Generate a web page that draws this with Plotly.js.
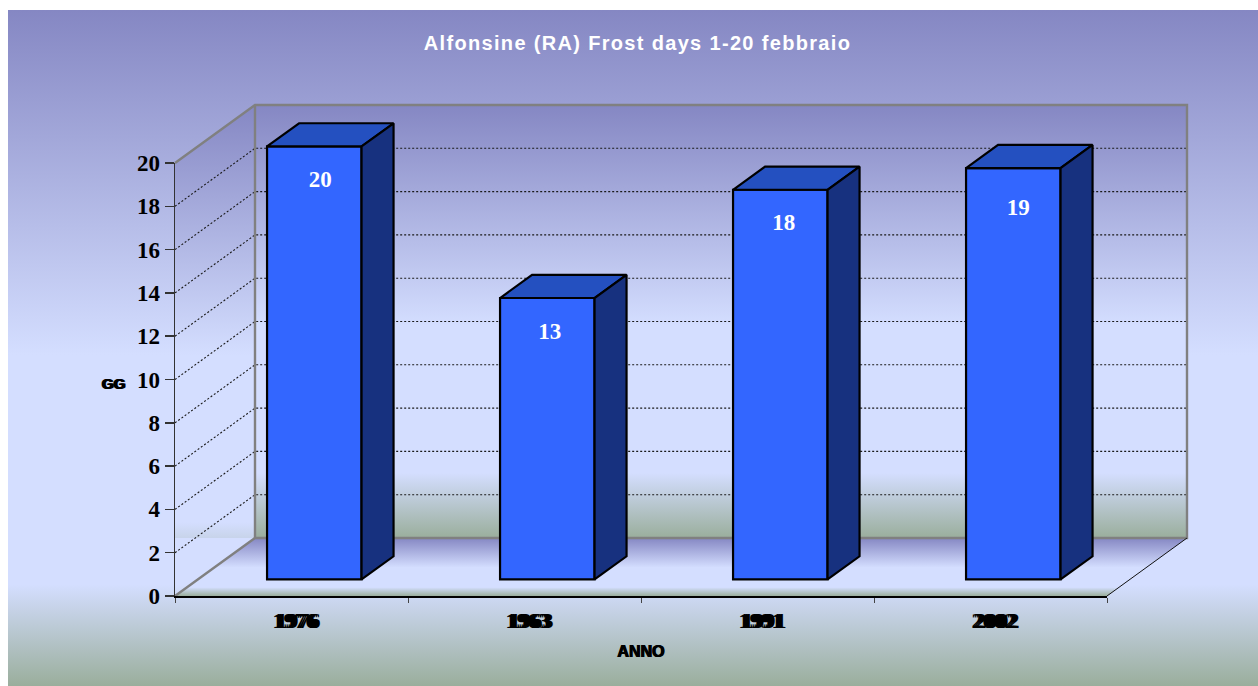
<!DOCTYPE html>
<html>
<head>
<meta charset="utf-8">
<script src="https://cdn.plot.ly/plotly-3.0.1.min.js"></script>
<style>
html,body{margin:0;padding:0;background:#fff;width:1258px;height:686px;overflow:hidden}
#bg{position:absolute;left:8px;top:10px;width:1250px;height:676px;
background:linear-gradient(to bottom,#8587c3 0%,#d4deff 51%,#d4deff 85%,#9aae9c 100%)}
#chart{position:absolute;left:0;top:0;width:1258px;height:686px}
.gtitle{letter-spacing:1.33px}
.xtick text{letter-spacing:-.4px}
</style>
</head>
<body>
<div id="bg"></div>
<div id="chart"></div>
<script>
// ---- data ----
const years = ['1976','1963','1991','2002'];
const frostDays = [20,13,18,19];
const gridValues = [2,4,6,8,10,12,14,16,18];
const yTicks = [0,2,4,6,8,10,12,14,16,18,20];

// ---- frame geometry ----
const W = 1258, H = 686;
const L = 175, R = 1107, T = 163, B = 596;      // front plane of the box
const WALL_X = 80, WALL_Y = 58;                 // depth of the box, px
const PAD = 5;                                  // room so the outlines are not clipped
const YMAX = 20, NCAT = years.length;
const pxX = (R-L)/NCAT, pxY = (B-T)/YMAX;
const DX = WALL_X/pxX, DY = WALL_Y/pxY;         // full wall depth in axis units
const barNear = 0.285, barFar = 0.685;          // bars' place along the depth
const barW = 94.5/pxX;
const tickShiftX = 5/pxX;
const labelShiftPx = [6,2.5,3.5,5];             // px right of the bar's centre
const labelDrop = [35,35,34.5,41.5];            // px below the top edge of the front face

const plotL = L-PAD, plotR = R+WALL_X+PAD, plotB = B+PAD, plotT = T-WALL_Y-PAD;
const plotW = plotR-plotL, plotH = plotB-plotT;
const xRange = [-PAD/pxX, NCAT+DX+PAD/pxX];
const yRange = [-PAD/pxY, YMAX+DY+PAD/pxY];

const stops = [[0,'#9aae9c'],[0.15,'#d4deff'],[0.49,'#d4deff'],[1,'#8587c3']];

const nearX = frostDays.map((v,i)=>i+0.5+barNear*DX);
const base = barNear*DY;
const dep = barFar-barNear;

function polys(fn){const xs=[],ys=[];frostDays.forEach((v,i)=>{fn(v,i).forEach(q=>{xs.push(q[0]);ys.push(q[1]);});xs.push(null);ys.push(null);});return {x:xs,y:ys};}
const topFace = polys((v,i)=>{const a=nearX[i]-barW/2,b=nearX[i]+barW/2,t=base+v;
  return [[a,t],[b,t],[b+dep*DX,t+dep*DY],[a+dep*DX,t+dep*DY],[a,t]];});
const sideFace = polys((v,i)=>{const b=nearX[i]+barW/2,t=base+v;
  return [[b,base],[b,t],[b+dep*DX,t+dep*DY],[b+dep*DX,base+dep*DY],[b,base]];});

const gridX=[],gridY=[];
gridValues.forEach(v=>{gridX.push(0,DX,NCAT+DX,null);gridY.push(v,v+DY,v+DY,null);});

const frame = {cliponaxis:false,hoverinfo:'skip',showlegend:false,type:'scatter',mode:'lines'};
const traces = [
 // back wall
 {...frame,x:[DX,NCAT+DX,NCAT+DX,DX,DX],y:[DY,DY,YMAX+DY,YMAX+DY,DY],fill:'toself',line:{width:0},
  fillgradient:{type:'vertical',colorscale:stops,start:DY,stop:YMAX+DY}},
 // left wall
 {...frame,x:[0,DX,DX,0,0],y:[DY,DY,YMAX+DY,YMAX,DY],fill:'toself',line:{width:0},
  fillgradient:{type:'vertical',colorscale:stops,start:0,stop:YMAX+DY}},
 // floor
 {...frame,x:[0,NCAT,NCAT+DX,DX,0],y:[0,0,DY,DY,0],fill:'toself',line:{width:0},
  fillgradient:{type:'vertical',colorscale:stops,start:0,stop:DY}},
 // gridlines
 {...frame,x:gridX,y:gridY,line:{color:'#1a1a1a',width:1.1,dash:'2px,2px'}},
 // wall outlines
 {...frame,x:[0,DX,NCAT+DX,NCAT+DX,DX,0,null,DX,DX],y:[YMAX,YMAX+DY,YMAX+DY,DY,DY,0,null,DY,YMAX+DY],
  line:{color:'#808080',width:2.4}},
 {...frame,x:[NCAT,NCAT+DX],y:[0,DY],line:{color:'#111',width:1}},
 // axes carrier
 {...frame,xaxis:'x3',yaxis:'y3',x:[0],y:[0],mode:'markers',marker:{size:1,opacity:0}},
 // bars: front faces
 {type:'bar',x:nearX,y:frostDays,base:base,width:barW,xaxis:'x2',yaxis:'y2',cliponaxis:false,hoverinfo:'skip',showlegend:false,
  marker:{color:'#3366ff',line:{color:'#000',width:2.2}}},
 {...frame,xaxis:'x2',yaxis:'y2',x:topFace.x,y:topFace.y,fill:'toself',fillcolor:'#2450c0',line:{color:'#000',width:2.2}},
 {...frame,xaxis:'x2',yaxis:'y2',x:sideFace.x,y:sideFace.y,fill:'toself',fillcolor:'#17317f',line:{color:'#000',width:2.2}},
 {...frame,mode:'text',xaxis:'x2',yaxis:'y2',
  x:nearX.map((x,i)=>x+labelShiftPx[i]/pxX),
  y:frostDays.map((v,i)=>base+v-labelDrop[i]/pxY),
  text:frostDays.map(String),textposition:'middle center',
  textfont:{family:'"Liberation Serif"',size:23,color:'#fff',weight:700}}
];

const hidden = {visible:false,fixedrange:true};
const layout = {
 width:W,height:H,
 paper_bgcolor:'rgba(0,0,0,0)',plot_bgcolor:'rgba(0,0,0,0)',
 margin:{l:plotL,r:W-plotR,t:plotT,b:H-plotB,pad:0},
 hovermode:false,showlegend:false,
 title:{text:'Alfonsine (RA) Frost days 1-20 febbraio',x:637.5/W,xanchor:'center',xref:'container',
  y:1-43/H,yanchor:'middle',yref:'container',
  font:{family:'"Liberation Sans"',size:20,color:'#fff',weight:700}},
 xaxis:{...hidden,range:xRange},
 yaxis:{...hidden,range:yRange},
 xaxis2:{...hidden,range:xRange,overlaying:'x',anchor:'y2'},
 yaxis2:{...hidden,range:yRange,overlaying:'y',anchor:'x2'},
 xaxis3:{domain:[(L-plotL)/plotW,(R-plotL)/plotW],anchor:'y3',
  range:[0,NCAT],fixedrange:true,showgrid:false,zeroline:false,showline:true,linecolor:'#000',linewidth:1.5,
  tickmode:'array',tickvals:years.map((y,i)=>i+0.5+tickShiftX),ticktext:years,ticks:'',ticklabelstandoff:4,
  tickfont:{family:'"Liberation Serif"',size:22,color:'#000',weight:700,shadow:'2px 0 0 #000, -2px 0 0 #000'},
  minor:{tickmode:'array',tickvals:[0,1,2,3,4],ticks:'outside',ticklen:5,tickwidth:1,tickcolor:'#444',showgrid:false},
  title:{text:'ANNO',standoff:14,font:{family:'"Liberation Sans"',size:16,color:'#000',weight:700,shadow:'0.6px 0 0 #000, -0.6px 0 0 #000'}}},
 yaxis3:{domain:[(plotB-B)/plotH,(plotB-T)/plotH],anchor:'x3',
  range:[0,YMAX],fixedrange:true,showgrid:false,zeroline:false,showline:true,linecolor:'#333',linewidth:1.5,
  tickmode:'array',tickvals:yTicks,ticks:'outside',ticklen:9,tickwidth:1.5,tickcolor:'#333',
  tickfont:{family:'"Liberation Serif"',size:23,color:'#000',weight:700}},
 annotations:[{text:'GG',xref:'paper',yref:'paper',x:(113.5-plotL)/plotW,y:(plotB-383)/plotH,showarrow:false,
  xanchor:'center',yanchor:'middle',
  font:{family:'"Liberation Sans"',size:15,color:'#000',weight:700,shadow:'1px 0 0 #000, -1px 0 0 #000'}}]
};
Plotly.newPlot('chart',traces,layout,{displayModeBar:false,staticPlot:true});
</script>
</body>
</html>
